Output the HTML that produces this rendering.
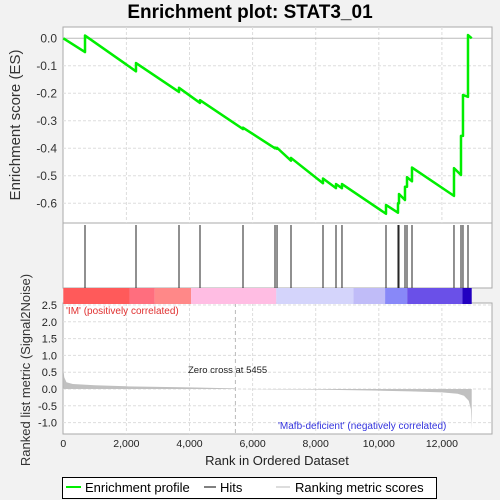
<!DOCTYPE html>
<html><head><meta charset="utf-8"><style>
html,body{margin:0;padding:0;background:#f2f2f2;width:500px;height:500px;overflow:hidden}
svg{display:block;font-family:"Liberation Sans","DejaVu Sans",sans-serif}
</style></head><body>
<svg id="c" width="500" height="500" xmlns="http://www.w3.org/2000/svg">
<text x="250" y="18" text-anchor="middle" font-size="19" font-weight="bold">Enrichment plot: STAT3_01</text>
<rect x="63" y="27" width="429" height="196" fill="#fff" stroke="#aaa"/>
<rect x="63" y="223" width="429" height="65" fill="#fff" stroke="#aaa"/>
<rect x="63" y="303" width="429" height="131" fill="#fff" stroke="#aaa"/>
<g id="grid"></g>
<g id="bar"></g>
<g id="hits"></g>
<g id="metric"></g>
<g id="es"></g>
<g id="axes"></g>
<text x="20" y="125" transform="rotate(-90 20 125)" text-anchor="middle" font-size="15" fill="#333">Enrichment score (ES)</text>
<text x="30" y="370" transform="rotate(-90 30 370)" text-anchor="middle" font-size="13" fill="#333">Ranked list metric (Signal2Noise)</text>
<text x="277" y="465" text-anchor="middle" font-size="13" fill="#222">Rank in Ordered Dataset</text>
<text x="66" y="314" font-size="10" fill="#e03030">'IM' (positively correlated)</text>
<text x="278" y="429" font-size="10" fill="#3333dd">'Mafb-deficient' (negatively correlated)</text>
<text x="188" y="373" font-size="9.5" fill="#222">Zero cross at 5455</text>
<g>
<rect x="62.5" y="477.5" width="374" height="21" fill="#fff" stroke="#000"/>
<line x1="66" y1="487" x2="81" y2="487" stroke="#00ee00" stroke-width="2"/>
<text x="85" y="492" font-size="13">Enrichment profile</text>
<line x1="204" y1="487" x2="216" y2="487" stroke="#000"/>
<text x="220" y="492" font-size="13">Hits</text>
<line x1="276" y1="487" x2="290" y2="487" stroke="#bbb"/>
<text x="295" y="492" font-size="13">Ranking metric scores</text>
</g>
</svg>
<script>
const hitRanks=[688,2304,3667,4333,5696,6710,6774,7217,8231,8643,8833,10228,10608,10640,10830,10894,11052,12383,12605,12668,12827];
const esBefore=[-0.05,-0.12,-0.195,-0.235,-0.33,-0.40,-0.402,-0.445,-0.527,-0.545,-0.545,-0.638,-0.634,-0.6,-0.588,-0.54,-0.52,-0.573,-0.497,-0.355,-0.213];
const esAfter=[0.01,-0.09,-0.18,-0.225,-0.325,-0.397,-0.398,-0.435,-0.51,-0.53,-0.53,-0.606,-0.6,-0.566,-0.54,-0.505,-0.47,-0.472,-0.355,-0.206,0.012];
const totalRanks=12945;
const metricRanks=[0,30,100,300,1000,2000,4000,5455,5456,6700,8000,10000,11000,12000,12500,12700,12850,12920,12945];
const metricVals=[0.6,0.35,0.2,0.15,0.11,0.08,0.05,0.02,0,-0.01,-0.02,-0.05,-0.07,-0.1,-0.14,-0.2,-0.35,-0.6,-1.2];
const xTicks=[0,2000,4000,6000,8000,10000,12000];
const esTicks=[0,-0.1,-0.2,-0.3,-0.4,-0.5,-0.6];
const metricTicks=[2.5,2.0,1.5,1.0,0.5,0.0,-0.5,-1.0];
const barColors=["#ff5a5a","#ff6e7e","#ff8888","#ffbde3","#d4d4fb","#c0bcf8","#8888f8","#6a50e8","#2200c0"];
const barEdges=[0,2100,2900,4050,6750,9200,10200,10900,12650,12945];
const NS="http://www.w3.org/2000/svg";
const X=r=>63.3+r*0.03155, YE=v=>38.3-v*275, YM=v=>389-v*33.6;
function mk(t,a,p){const e=document.createElementNS(NS,t);for(const k in a)e.setAttribute(k,a[k]);p.appendChild(e);return e;}
const grid=document.getElementById('grid'),axes=document.getElementById('axes');
xTicks.forEach(t=>{
 if(t>0){mk('line',{x1:X(t),x2:X(t),y1:27,y2:223,stroke:'#ddd','stroke-dasharray':'3,2'},grid);
 mk('line',{x1:X(t),x2:X(t),y1:303,y2:434,stroke:'#ddd','stroke-dasharray':'3,2'},grid);}
 const l=mk('text',{x:X(t),y:447,'text-anchor':'middle','font-size':10.5,fill:'#222'},axes);
 
 
 l.textContent=t.toLocaleString('en-US');
});
esTicks.forEach(t=>{
 mk('line',{x1:63,x2:492,y1:YE(t),y2:YE(t),stroke:t===0?'#bbb':'#ddd','stroke-dasharray':t===0?'':'3,2'},grid);
 const l=mk('text',{x:57,y:YE(t)+4,'text-anchor':'end','font-size':12,fill:'#333'},axes);
 
 
 l.textContent=t.toFixed(1);
});
metricTicks.forEach(t=>{
 mk('line',{x1:63,x2:492,y1:YM(t),y2:YM(t),stroke:'#ddd','stroke-dasharray':'3,2'},grid);
 const l=mk('text',{x:57,y:YM(t)+4,'text-anchor':'end','font-size':11,fill:'#222'},axes);
 
 
 l.textContent=t.toFixed(1);
});
mk('line',{x1:X(5455),x2:X(5455),y1:303,y2:434,stroke:'#bbb','stroke-dasharray':'4,3'},grid);
const bar=document.getElementById('bar');
barColors.forEach((c,i)=>{const r=mk('rect',{x:X(barEdges[i]),y:288,width:X(barEdges[i+1])-X(barEdges[i]),height:16,fill:c},bar);
 
 });
const hits=document.getElementById('hits');
hitRanks.forEach(r=>{const l=mk('line',{x1:X(r),x2:X(r),y1:225,y2:288,stroke:'#222','stroke-width':1},hits);
 
 });
let md='M'+X(0)+','+YM(0);
metricRanks.forEach((r,i)=>{md+=' L'+X(r)+','+YM(metricVals[i]);});
md+=' L'+X(totalRanks)+','+YM(0)+' Z';
const mp=mk('path',{d:md,fill:'#c0c0c0',stroke:'none'},document.getElementById('metric'));


let d='M'+X(0)+','+YE(0);
hitRanks.forEach((r,i)=>{d+=' L'+X(r)+','+YE(esBefore[i])+' L'+X(r)+','+YE(esAfter[i]);});
d+=' L'+X(totalRanks)+','+YE(0);
const ep=mk('path',{d:d,fill:'none',stroke:'#00ee00','stroke-width':2.5,'stroke-linejoin':'round'},document.getElementById('es'));


</script>
</body></html>
